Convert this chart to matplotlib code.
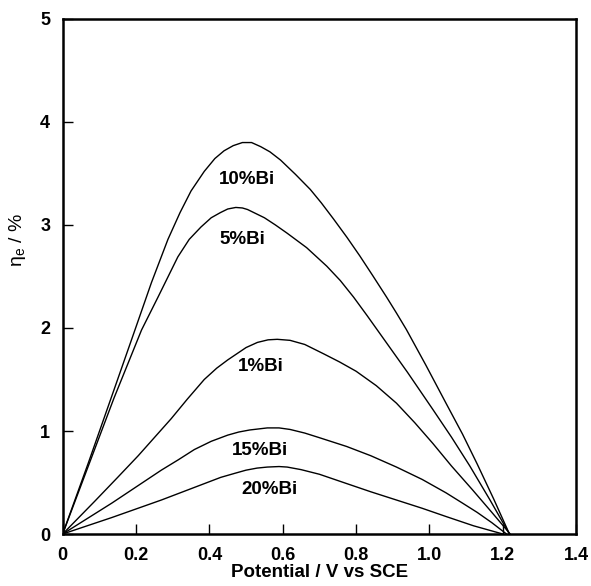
import matplotlib
matplotlib.use('Agg')
import matplotlib.pyplot as plt

plt.rcParams['font.family'] = ['Liberation Sans', 'DejaVu Sans']
plt.rcParams['mathtext.fontset'] = 'custom'
plt.rcParams['mathtext.rm'] = 'Liberation Sans'

# efficiency curves (potential in V vs SCE, eta_e in %)
x_10 = [0, 0.07, 0.14, 0.197, 0.242, 0.287, 0.32, 0.35, 0.386, 0.415, 0.44,
        0.465, 0.49, 0.515, 0.54, 0.565, 0.594, 0.635, 0.675, 0.705, 0.738,
        0.775, 0.81, 0.845, 0.883, 0.91, 0.937, 0.99, 1.045, 1.09, 1.13,
        1.175, 1.218]
y_10 = [0, 0.69, 1.40, 1.98, 2.44, 2.86, 3.12, 3.33, 3.52, 3.645, 3.72,
        3.77, 3.80, 3.80, 3.76, 3.71, 3.63, 3.49, 3.345, 3.215, 3.06,
        2.88, 2.70, 2.51, 2.30, 2.145, 1.985, 1.64, 1.27, 0.97, 0.68,
        0.34, 0]

x_5 = [0, 0.07, 0.14, 0.215, 0.26, 0.314, 0.345, 0.377, 0.405, 0.43, 0.45,
       0.472, 0.49, 0.504, 0.55, 0.58, 0.612, 0.665, 0.72, 0.757, 0.793,
       0.83, 0.874, 0.94, 1.009, 1.06, 1.11, 1.165, 1.218]
y_5 = [0, 0.66, 1.32, 1.98, 2.30, 2.69, 2.86, 2.98, 3.07, 3.12, 3.155,
       3.17, 3.165, 3.15, 3.07, 3.00, 2.92, 2.78, 2.60, 2.46, 2.30,
       2.12, 1.90, 1.57, 1.21, 0.94, 0.66, 0.33, 0]

x_1 = [0, 0.088, 0.15, 0.206, 0.296, 0.34, 0.386, 0.42, 0.45, 0.50, 0.531,
       0.56, 0.585, 0.62, 0.66, 0.711, 0.755, 0.80, 0.855, 0.91, 0.96,
       1.009, 1.06, 1.117, 1.17, 1.22]
y_1 = [0, 0.32, 0.55, 0.76, 1.12, 1.31, 1.50, 1.61, 1.69, 1.81, 1.86,
       1.885, 1.89, 1.88, 1.84, 1.75, 1.67, 1.58, 1.44, 1.27, 1.08,
       0.88, 0.66, 0.43, 0.21, 0]

x_15 = [0, 0.134, 0.269, 0.315, 0.359, 0.405, 0.45, 0.48, 0.51, 0.558, 0.59,
        0.62, 0.66, 0.70, 0.774, 0.84, 0.91, 0.98, 1.045, 1.09, 1.13,
        1.17, 1.21]
y_15 = [0, 0.30, 0.62, 0.72, 0.82, 0.90, 0.96, 0.99, 1.01, 1.03, 1.03,
        1.015, 0.98, 0.935, 0.85, 0.76, 0.65, 0.53, 0.40, 0.30, 0.21,
        0.11, 0]

x_20 = [0, 0.134, 0.269, 0.35, 0.431, 0.47, 0.50, 0.53, 0.558, 0.59, 0.612,
        0.65, 0.70, 0.774, 0.84, 0.91, 0.98, 1.045, 1.12, 1.20]
y_20 = [0, 0.16, 0.33, 0.44, 0.55, 0.59, 0.62, 0.64, 0.65, 0.655, 0.65,
        0.625, 0.58, 0.49, 0.41, 0.33, 0.25, 0.17, 0.08, 0]

labels = ['10%Bi', '5%Bi', '1%Bi', '15%Bi', '20%Bi']
label_x = [0.502, 0.491, 0.54, 0.537, 0.564]
label_y = [3.44, 2.86, 1.63, 0.815, 0.43]

fig = plt.figure(figsize=(5.91, 5.86), dpi=100)
ax = fig.add_axes([0.106, 0.0887, 0.869, 0.879])

for xs, ys in [(x_10, y_10), (x_5, y_5), (x_1, y_1), (x_15, y_15), (x_20, y_20)]:
    ax.plot(xs, ys, color='black', linewidth=1.0)

for lab, lx, ly in zip(labels, label_x, label_y):
    ax.text(lx, ly, lab, ha='center', va='center', fontsize=13.5,
            fontweight='bold')

ax.set_xlim(0, 1.4)
ax.set_ylim(0, 5)
ax.set_xticks([0, 0.2, 0.4, 0.6, 0.8, 1.0, 1.2, 1.4])
ax.set_xticklabels(['0', '0.2', '0.4', '0.6', '0.8', '1.0', '1.2', '1.4'])
ax.set_yticks([0, 1, 2, 3, 4, 5])
ax.set_yticklabels(['0', '1', '2', '3', '4', '5'])
ax.tick_params(direction='in', length=7, width=1, labelsize=13, pad=9)
for t in ax.get_xticklabels() + ax.get_yticklabels():
    t.set_fontweight('bold')

for s in ax.spines.values():
    s.set_linewidth(1.8)

ax.set_xlabel('Potential / V vs SCE', fontsize=13.5, fontweight='bold', labelpad=0)
ax.set_ylabel('η$_\\mathrm{e}$ / %', fontsize=14)
ax.yaxis.set_label_coords(-0.068, 0.57)

fig.savefig('out.png', dpi=100)
